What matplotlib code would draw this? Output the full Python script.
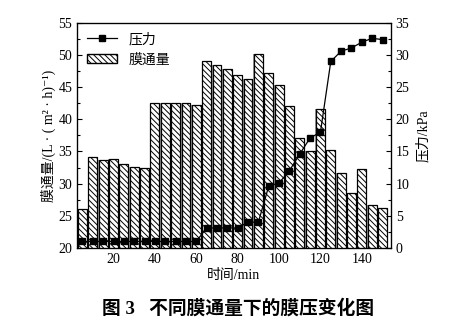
import matplotlib
matplotlib.use('Agg')
import matplotlib.pyplot as plt
from matplotlib.ticker import MultipleLocator
from matplotlib.patches import Patch
from matplotlib.lines import Line2D

plt.rcParams['font.family'] = ['Liberation Serif', 'Noto Sans CJK SC', 'DejaVu Sans']
plt.rcParams['hatch.linewidth'] = 0.7

# 数据
time_min = [5, 10, 15, 20, 25, 30, 35, 40, 45, 50, 55, 60, 65, 70, 75,
            80, 85, 90, 95, 100, 105, 110, 115, 120, 125, 130, 135, 140, 145, 150]
flux = [26.1, 34.1, 33.6, 33.8, 33.1, 32.6, 32.5, 42.6, 42.5, 42.6, 42.6, 42.3, 49.0, 48.4, 47.8,
        46.9, 46.2, 50.1, 47.2, 45.3, 42.1, 37.1, 35.1, 41.6, 35.3, 31.7, 28.5, 32.2, 26.6, 26.2]
pressure = [1.0, 1.0, 1.0, 1.0, 1.0, 1.0, 1.0, 1.0, 1.0, 1.0, 1.0, 1.0, 3.1, 3.1, 3.1,
            3.1, 4.0, 4.0, 9.6, 10.1, 12.0, 14.6, 17.1, 18.0, 29.0, 30.6, 31.1, 32.0, 32.6, 32.4]

HATCH = '\\' * 6

fig = plt.figure(figsize=(4.76, 3.27), dpi=100)
ax = fig.add_axes([0.162, 0.242, 0.659, 0.688])

# 灰色底 + 斜线柱
ax.bar(time_min, flux, width=4.9, color='#9a9a9a', edgecolor='none', zorder=1)
ax.bar(time_min, flux, width=4.3, color='white', edgecolor='black', hatch=HATCH,
       linewidth=0.9, zorder=2)
ax.set_xlim(2.4, 154)
ax.set_ylim(20, 55)
ax.xaxis.set_major_locator(MultipleLocator(20))
ax.xaxis.set_minor_locator(MultipleLocator(10))
ax.yaxis.set_major_locator(MultipleLocator(5))
ax.yaxis.set_minor_locator(MultipleLocator(2.5))
ax.tick_params(direction='in', which='both', labelsize=10, width=0.8)
ax.tick_params(which='major', length=3.5)
ax.tick_params(which='minor', length=2)
ax.set_xlabel('时间/min', fontsize=10, labelpad=2)
ax.set_ylabel('膜通量/(L · ( m² · h)⁻¹)', fontsize=10, labelpad=2)
for s in ax.spines.values():
    s.set_linewidth(0.9)

ax2 = ax.twinx()
ax2.plot(time_min, pressure, color='black', marker='s', markersize=4, linewidth=0.9, zorder=5)
ax2.set_ylim(0, 35)
ax2.yaxis.set_major_locator(MultipleLocator(5))
ax2.yaxis.set_minor_locator(MultipleLocator(2.5))
ax2.tick_params(direction='in', which='both', labelsize=10, width=0.8)
ax2.tick_params(which='major', length=3.5)
ax2.tick_params(which='minor', length=2)
ax2.set_ylabel('压力/kPa', fontsize=10, labelpad=5)

handles = [Line2D([], [], color='black', marker='s', markersize=4, linewidth=0.9),
           Patch(facecolor='white', edgecolor='black', hatch=HATCH)]
ax2.legend(handles, ['压力', '膜通量'], loc='upper left', frameon=False, fontsize=10,
           handlelength=2.2, borderaxespad=0.3, labelspacing=0.5)

fig.text(0.50, 0.03, '图 3   不同膜通量下的膜压变化图', ha='center', va='bottom',
         fontsize=13.5, fontweight='bold')

fig.savefig('out.png', dpi=100)
